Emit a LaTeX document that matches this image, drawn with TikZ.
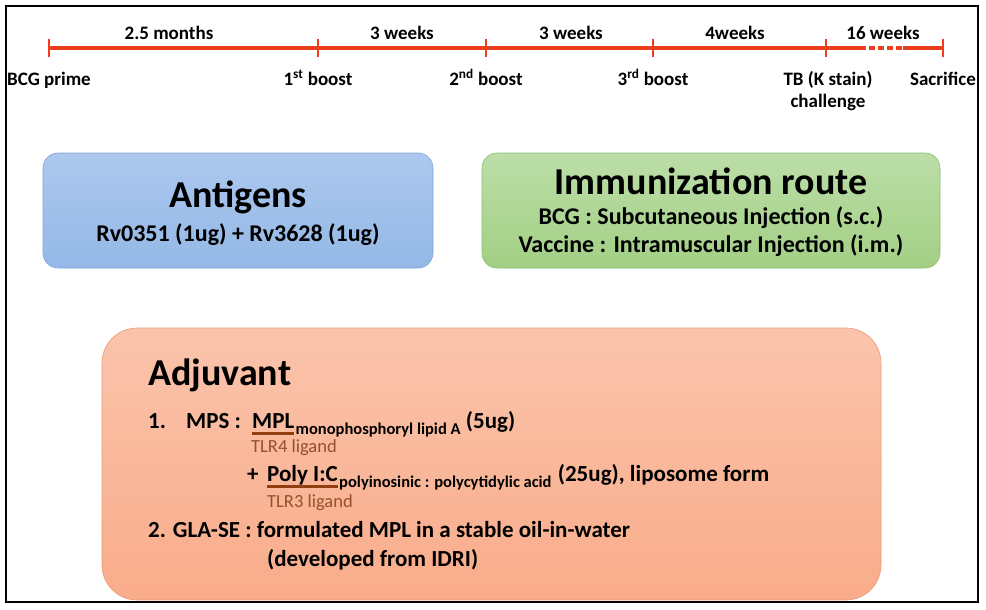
\documentclass[tikz,border=0pt]{standalone}
\usepackage{fontspec}
\setmainfont{Carlito}
\usetikzlibrary{
    positioning,
    calc
}
\usepackage{xcolor}
\definecolor{tlred}{RGB}{236,62,28}
\definecolor{antTop}{RGB}{172,200,238}
\definecolor{antBot}{RGB}{148,184,230}
\definecolor{antEdge}{RGB}{125,165,218}
\definecolor{routeTop}{RGB}{188,222,168}
\definecolor{routeBot}{RGB}{162,207,132}
\definecolor{routeEdge}{RGB}{140,190,110}
\definecolor{adjTop}{RGB}{250,196,172}
\definecolor{adjBot}{RGB}{249,172,138}
\definecolor{adjEdge}{RGB}{236,155,120}
\definecolor{ligbrown}{RGB}{150,80,44}
\definecolor{ulbrown}{RGB}{145,62,16}

\begin{document}
\begin{tikzpicture}[
    x=1pt, y=-1pt,
    tline/.style={line width=4pt, color=tlred},
    tmark/.style={line width=2.5pt, color=tlred},
    period/.style={
        inner sep=0pt,
        anchor=base,
        font=\fontsize{19}{23}\selectfont\bfseries
    },
    event/.style={period},
    box/.style={
        rectangle,
        rounded corners=15pt,
        line width=0.6pt
    },
    antbox/.style={box, top color=antTop, bottom color=antBot, draw=antEdge,
        minimum width=390pt, minimum height=115pt},
    routebox/.style={box, top color=routeTop, bottom color=routeBot, draw=routeEdge,
        minimum width=458pt, minimum height=115pt},
    adjbox/.style={box, rounded corners=35pt, top color=adjTop, bottom color=adjBot, draw=adjEdge,
        minimum width=779pt, minimum height=272pt},
    head/.style={inner sep=0pt, anchor=base, font=\fontsize{38}{44}\selectfont\bfseries},
    detail/.style={inner sep=0pt, anchor=base, font=\fontsize{24}{28}\selectfont\bfseries},
    item/.style={inner sep=0pt, anchor=base west, font=\fontsize{23}{28}\selectfont\bfseries},
    subtext/.style={inner sep=0pt, anchor=base west, font=\fontsize{16.5}{19}\selectfont\bfseries},
    ligand/.style={inner sep=0pt, anchor=base west, color=ligbrown, font=\fontsize{18.5}{22}\selectfont},
    uline/.style={line width=3pt, color=ulbrown}
]
\useasboundingbox (0,0) rectangle (986,610);

% Timeline
\foreach \x [count=\i from 0] in {49,318,486,653,826,943}
    \coordinate (t\i) at (\x,48);
\coordinate (d1) at (860,48);
\coordinate (d2) at (903,48);
\draw[tline] (t0) -- (t4) -- (d1);
\draw[tline, dash pattern=on 6pt off 3pt] (d1) -- (d2);
\draw[tline] (d2) -- (t5);
\foreach \i in {0,...,5}
    \draw[tmark] ([yshift=9pt]t\i) -- ([yshift=-9pt]t\i);

% Periods
\foreach \x/\txt [count=\i] in {169/2.5 months, 402/3 weeks, 571/3 weeks, 735/4weeks, 883/16 weeks}
    \node[period] (p\i) at (\x,40) {\txt};

% Events
\node[event] (ev0) at ([yshift=-37pt]t0) {BCG prime};
\node[event] (ev1) at ([yshift=-37pt]t1) {1\textsuperscript{st} boost};
\node[event] (ev2) at ([yshift=-37pt]t2) {2\textsuperscript{nd} boost};
\node[event] (ev3) at ([yshift=-37pt]t3) {3\textsuperscript{rd} boost};
\node[event] (ev4) at ([xshift=2pt,yshift=-37pt]t4)
    {\begin{tabular}[t]{@{}c@{}}TB (K stain)\\[-1pt]challenge\end{tabular}};
\node[event] (ev5) at ([yshift=-37pt]t5) {Sacrifice};

% Boxes
\node[antbox] (antigens) at (238,210.5) {};
\node[routebox] (route) at (711,210.5) {};
\node[adjbox] (adjuvant) at (491.5,464) {};

% Antigens
\node[head] (antT) at ([yshift=-54.5pt]antigens.north) {Antigens};
\node[detail] (antD) at ([yshift=-89pt]antigens.north) {Rv0351 (1ug) + Rv3628 (1ug)};

% Immunization route
\node[head] (routeT) at ([yshift=-42pt]route.north) {Immunization route};
\node[detail] (routeB) at ([yshift=-72pt]route.north) {BCG : Subcutaneous Injection (s.c.)};
\node[detail] (routeV) at ([yshift=-100pt]route.north) {Vaccine : Intramuscular Injection (i.m.)};

% Adjuvant
\node[head, anchor=base west] (adjT) at (148,385) {Adjuvant};
\node[item] (one) at (148,428) {1.};
\node[item] (mps) at (186,428) {MPS :};
\node[item] (mpl) at (252,428) {MPL};
\node[subtext] (mplsub) at ([xshift=1pt,yshift=-6pt]mpl.base east) {monophosphoryl lipid A};
\node[item] (mpldose) at ([xshift=5pt,yshift=6pt]mplsub.base east) {(5ug)};
\draw[uline] ([yshift=-5pt]mpl.base west) -- ([yshift=-5pt]mpl.base east);
\node[ligand] (tlr4) at (251,452) {TLR4 ligand};

\node[item] (plus) at (247,481) {+};
\node[item] (poly) at (267,481) {Poly I:C};
\node[subtext] (polysub) at ([xshift=1pt,yshift=-6pt]poly.base east) {polyinosinic : polycytidylic acid};
\node[item] (polydose) at ([xshift=6pt,yshift=6pt]polysub.base east) {(25ug), liposome form};
\draw[uline] ([yshift=-5pt]poly.base west) -- ([yshift=-5pt]poly.base east);
\node[ligand] (tlr3) at (267,507) {TLR3 ligand};

\node[item] (two) at (148,537) {2. GLA-SE : formulated MPL in a stable oil-in-water};
\node[item] (idri) at (267,566) {(developed from IDRI)};

% Frame
\draw[line width=2.5pt] (6,6) rectangle (978,602);

\end{tikzpicture}
\end{document}
